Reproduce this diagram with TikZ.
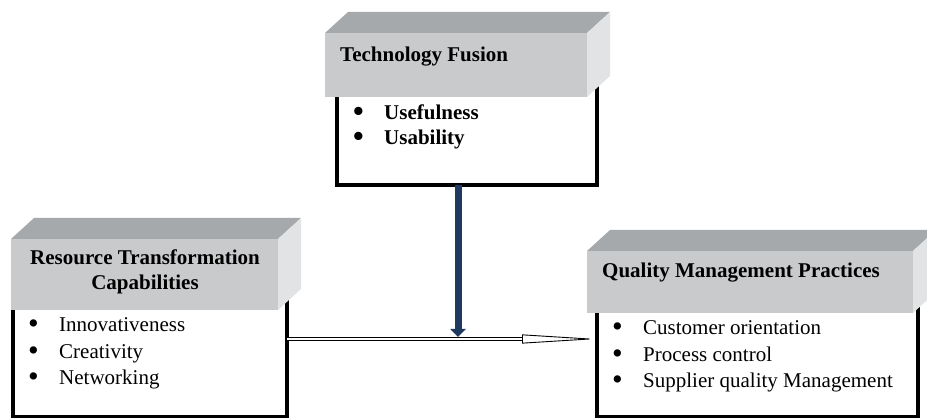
\documentclass[tikz,border=0pt]{standalone}
\usepackage{fontspec}
\setmainfont{Liberation Serif}
\usepackage{tikz}
\usetikzlibrary{arrows.meta, calc}

\definecolor{boxfront}{RGB}{201,202,204}
\definecolor{boxtop}{RGB}{166,169,171}
\definecolor{boxside}{RGB}{226,227,228}
\definecolor{navyarrow}{RGB}{31,58,94}

\tikzset{
    body/.style={draw=black, line width=3.5pt, anchor=north west,
                 inner sep=0pt, outer sep=0pt},
    front/.style={fill=boxfront, anchor=north west, inner sep=0pt, outer sep=0pt},
    title/.style={font=\bfseries, inner sep=0pt},
    items/.style={align=left, anchor=base west, inner sep=0pt},
}

% top and side face of a header block
\newcommand{\cubefaces}[1]{%
    \fill[boxtop] (#1.north west) -- ++(23,-21) -- ($(#1.north east)+(23,-21)$)
        -- (#1.north east) -- cycle;
    \fill[boxside] (#1.north east) -- ++(23,-21) -- ($(#1.south east)+(23,-21)$)
        -- (#1.south east) -- cycle;
}
\newcommand{\itm}[1]{\makebox[31pt][l]{\raisebox{-2pt}{\scalebox{1.45}{\textbullet}}}#1}

\begin{document}
\fontsize{21}{26.5}\selectfont
\begin{tikzpicture}[x=1pt, y=-1pt]
    \useasboundingbox (0,0) rectangle (927,419);

    % frames
    \node[body, minimum width=260pt, minimum height=125pt] (tfbody) at (337,60) {};
    \node[body, minimum width=274pt, minimum height=146.5pt] (rtcbody) at (13,270) {};
    \node[body, minimum width=321pt, minimum height=136.5pt] (qmpbody) at (597,280) {};

    % headers
    \node[front, minimum width=262pt, minimum height=64pt] (tf) at (325,33) {};
    \cubefaces{tf}
    \node[front, minimum width=267pt, minimum height=71pt] (rtc) at (11,239) {};
    \cubefaces{rtc}
    \node[front, minimum width=326pt, minimum height=62pt] (qmp) at (587,251) {};
    \cubefaces{qmp}

    \node[title, anchor=base west] (tftitle) at (340,62) {Technology Fusion};
    \node[title, align=center] (rtctitle) at (145,272)
         {Resource Transformation\\[-1.5pt]Capabilities};
    \node[title, anchor=base west] (qmptitle) at (602,278)
         {Quality Management Practices};

    % lists (base = last line)
    \node[items, font=\bfseries] (tflist) at (353,145)
         {\itm{Usefulness}\\[-1.5pt]\itm{Usability}};
    \node[items] (rtclist) at (28,385)
         {\itm{Innovativeness}\\\itm{Creativity}\\\itm{Networking}};
    \node[items] (qmplist) at (612,388)
         {\itm{Customer orientation}\\\itm{Process control}\\\itm{Supplier quality Management}};

    %edges
    \coordinate (link) at (458,339);
    \draw[double=white, double distance=2pt, line width=0.9pt,
          -{Triangle[open, length=75pt, width=9pt]}]
         (rtcbody.east |- link) -- (qmpbody.west |- link);
    \draw[draw=navyarrow, line width=7pt, -{Triangle[length=8pt, width=15pt]},
          shorten >=2pt] (tfbody.south -| link) -- (link);
\end{tikzpicture}
\end{document}
